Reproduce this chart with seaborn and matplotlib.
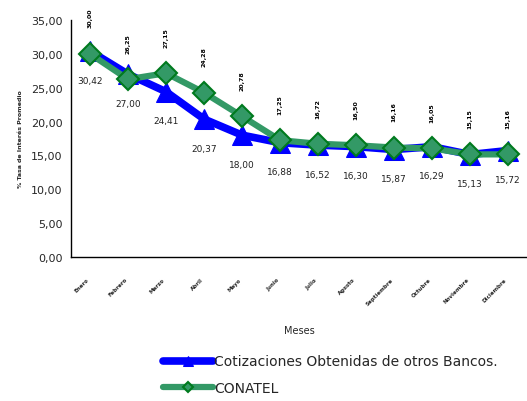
import pandas as pd
import numpy as np
import matplotlib
matplotlib.use("Agg")
import matplotlib.pyplot as plt
import seaborn as sns

meses = ["Enero", "Febrero", "Marzo", "Abril", "Mayo", "Junio", "Julio",
         "Agosto", "Septiembre", "Octubre", "Noviembre", "Diciembre"]
bancos = [30.42, 27.00, 24.41, 20.37, 18.00, 16.88, 16.52, 16.30, 15.87, 16.29, 15.13, 15.72]
conatel = [30.00, 26.25, 27.15, 24.28, 20.78, 17.25, 16.72, 16.50, 16.16, 16.05, 15.15, 15.16]
serie_bancos = "Cotizaciones Obtenidas de otros Bancos."
serie_conatel = "CONATEL"
yticks = [0, 5, 10, 15, 20, 25, 30, 35]

df = pd.DataFrame({
    "idx": list(range(len(meses))) * 2,
    "tasa": bancos + conatel,
    "serie": [serie_bancos] * len(meses) + [serie_conatel] * len(meses),
})

sns.set_style("white")
plt.rcParams["font.family"] = ["DejaVu Sans"]

fig = plt.figure(figsize=(5.27, 4.02), dpi=100)
ax = fig.add_axes([71 / 527, (402 - 258) / 402, 456 / 527, 237 / 402])

blue = "#0000FF"
green = "#339966"

sns.lineplot(data=df[df["serie"] == serie_bancos], x="idx", y="tasa", ax=ax,
             color=blue, lw=5.5, marker="^", markersize=15, markeredgecolor=blue,
             label=serie_bancos, zorder=3)
sns.lineplot(data=df[df["serie"] == serie_conatel], x="idx", y="tasa", ax=ax,
             color=green, lw=4.5, marker="D", markersize=11, markerfacecolor=green,
             markeredgecolor="#007A1E", markeredgewidth=1.5,
             label=serie_conatel, zorder=4)

# etiquetas de datos
for i, v in enumerate(bancos):
    ax.annotate(f"{v:.2f}".replace(".", ","), (i, v), xytext=(0, -21),
                textcoords="offset points", ha="center", va="center",
                fontsize=6.5, color="#222222")
for i, v in enumerate(conatel):
    ax.annotate(f"{v:.2f}".replace(".", ","), (i, v), xytext=(0, 26),
                textcoords="offset points", ha="center", va="center",
                fontsize=4.5, rotation=90, fontweight="bold", color="black")

ax.set_xlim(-0.5, len(meses) - 0.5)
ax.set_ylim(0, 35)
ax.set_yticks(yticks)
ax.set_yticklabels([f"{t:.2f}".replace(".", ",") for t in yticks], fontsize=8)
ax.set_xticks(np.arange(len(meses) + 1) - 0.5)
ax.set_xticklabels([])
ax.set_xticks(np.arange(len(meses)), minor=True)
ax.set_xticklabels(meses, minor=True, rotation=45, ha="right", fontsize=4,
                   fontweight="bold")
ax.tick_params(axis="x", which="minor", length=0, pad=14)
ax.tick_params(axis="x", which="major", length=4, direction="out")
ax.tick_params(axis="y", length=4, direction="out", pad=2)
ax.set_xlabel("Meses", fontsize=7, labelpad=14)
ax.set_ylabel("% Tasa de Interés Promedio", fontsize=4.5, fontweight="bold", labelpad=6)

sns.despine(ax=ax)
for s in ["left", "bottom"]:
    ax.spines[s].set_color("black")
    ax.spines[s].set_linewidth(1)

ax.get_legend().remove()
handles, labels = ax.get_legend_handles_labels()
leg = fig.legend(handles, labels, loc="upper left", bbox_to_anchor=(150 / 527, 1 - 343 / 402),
                 frameon=False, fontsize=10, handlelength=3.6, handletextpad=0.1,
                 labelspacing=0.9, markerscale=0.5)

fig.savefig("out.png", dpi=100)
